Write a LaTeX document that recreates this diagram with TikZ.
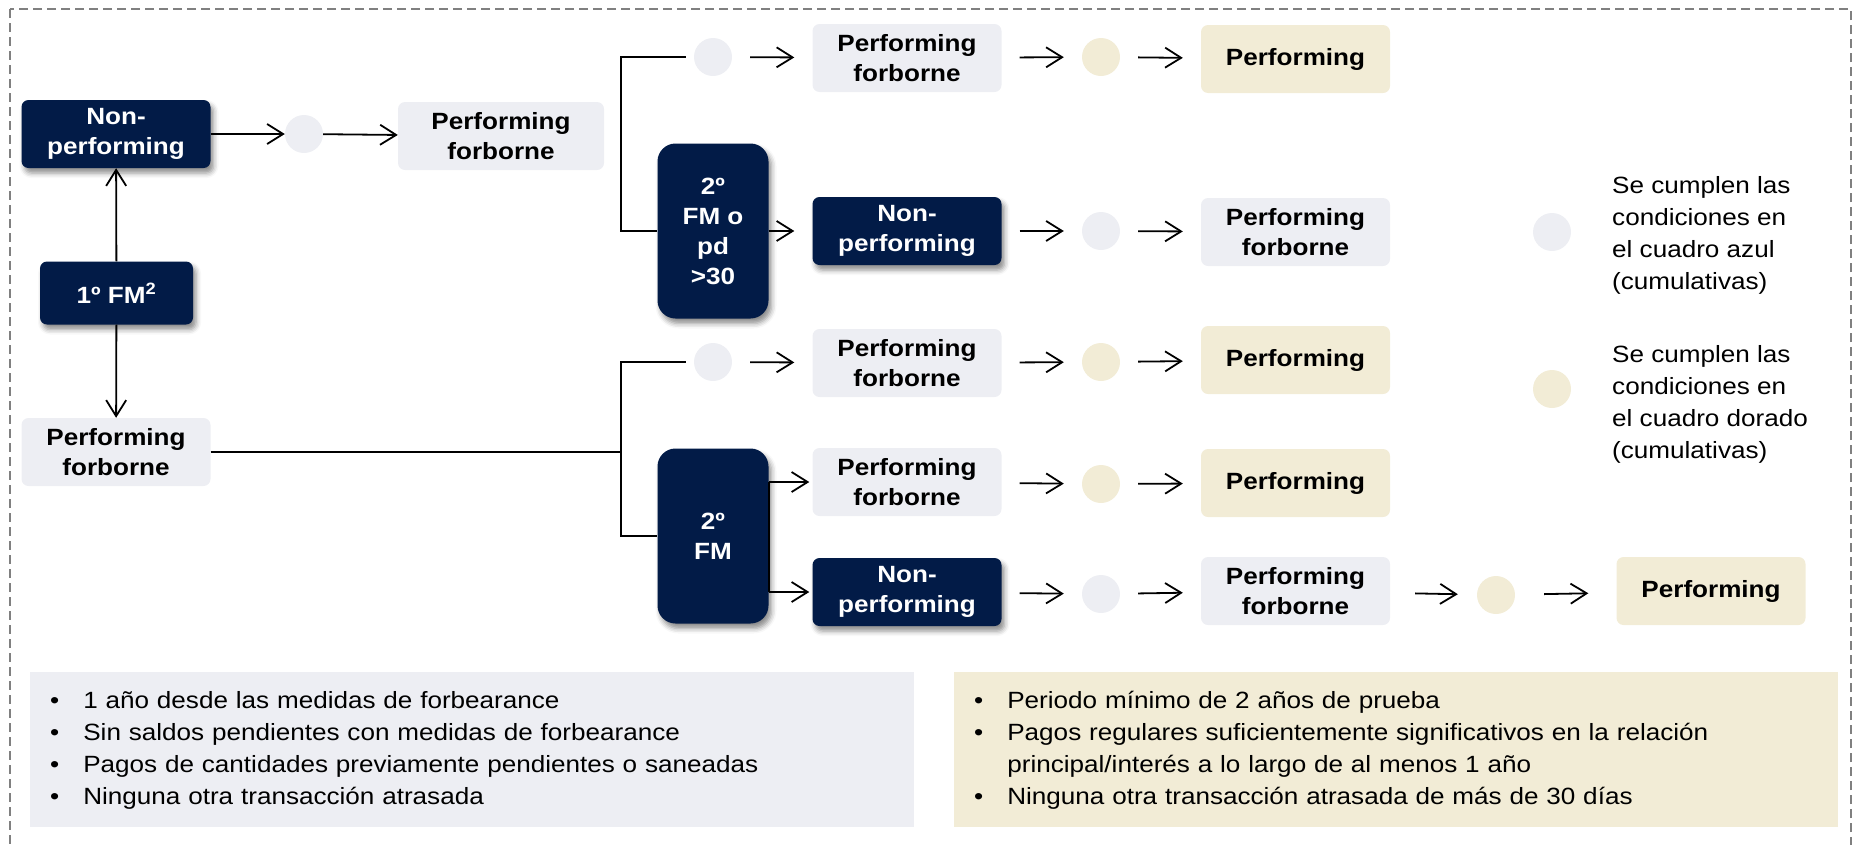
\documentclass[tikz,border=0pt]{standalone}
\usepackage{fontspec}
\setmainfont{Liberation Sans}[FakeStretch=1.11]
\usetikzlibrary{arrows.meta,shadows.blur}

\definecolor{navy}{RGB}{2,27,71}
\definecolor{paleblue}{RGB}{237,238,243}
\definecolor{palegold}{RGB}{242,236,214}

\newcommand\boxfont{\fontsize{23.5}{30}\selectfont\bfseries}
\newcommand\keyfont{\fontsize{23.5}{32}\selectfont}
\newcommand\listfont{\fontsize{23.5}{32}\selectfont}

\tikzset{
	box/.style={rounded corners=7pt, minimum width=189pt, minimum height=68pt,
		align=center, inner sep=2pt, font=\boxfont},
	darkbox/.style={box, fill=navy, text=white,
		blur shadow={shadow xshift=3pt, shadow yshift=-5pt, shadow blur radius=5pt, shadow opacity=45}},
	greybox/.style={box, fill=paleblue},
	goldbox/.style={box, fill=palegold},
	dot/.style={circle, minimum size=38pt, inner sep=0pt},
	greydot/.style={dot, fill=paleblue},
	golddot/.style={dot, fill=palegold},
	link/.style={line width=1.8pt},
	arr/.style={link, -{Straight Barb[length=16pt, width=20pt]}},
	spaced/.style={arr, shorten <=18pt, shorten >=18pt},
	panel/.style={anchor=north west, minimum width=884pt, minimum height=155pt,
		text width=844pt, inner xsep=20pt, align=left, font=\listfont},
}

\begin{document}
\begin{tikzpicture}[x=1pt, y=-1pt]
	\useasboundingbox (0,0) rectangle (1854,844);
	\draw[gray, line width=1.5pt, dash pattern=on 9pt off 5pt] (10,9) rectangle (1851,900);

	% left column
	\node[darkbox] (np0) at (116,134) {Non-\\performing};
	\node[greydot] (d0) at (304,134) {};
	\node[greybox, minimum width=206pt] (pf0) at (501,136) {Performing\\forborne};
	\node[darkbox, minimum width=153pt, minimum height=63pt] (fm1) at (116.5,293) {1º FM\textsuperscript{2}};
	\node[greybox] (pf00) at (116,452) {Performing\\forborne};
	\draw[arr] (fm1) -- (np0);
	\draw[arr] (fm1) -- (pf00);
	\draw[arr] (np0) -- (d0);
	\draw[arr] (d0) -- (pf0);

	% upper branch: 2o FM o pd >30
	\node[darkbox, minimum width=111pt, minimum height=175pt, rounded corners=18pt] (fm2a) at (713,231) {2º\\FM o\\pd\\>30};
	\node[greydot] (a1) at (713,57) {};
	\node[greybox] (a2) at (907,58) {Performing\\forborne};
	\node[golddot] (a3) at (1101,57) {};
	\node[goldbox] (a4) at (1295.5,59) {Performing};
	\node[darkbox] (b2) at (907,231) {Non-\\performing};
	\node[greydot] (b3) at (1101,231) {};
	\node[greybox] (b4) at (1295.5,232) {Performing\\forborne};
	\coordinate (ka) at (621,57);
	\draw[link] ([xshift=-8pt]a1.west) -- (ka) |- (fm2a.west);
	\draw[spaced] (a1) -- (a2);
	\draw[spaced] (a2) -- (a3);
	\draw[spaced] (a3) -- (a4);
	\draw[arr, shorten >=18pt] (fm2a.east |- b2) -- (b2);
	\draw[spaced] (b2) -- (b3);
	\draw[spaced] (b3) -- (b4);

	% lower branch: 2o FM
	\node[darkbox, minimum width=111pt, minimum height=175pt, rounded corners=18pt] (fm2b) at (713,536) {2º\\FM};
	\node[greydot] (c1) at (713,362) {};
	\node[greybox] (c2) at (907,363) {Performing\\forborne};
	\node[golddot] (c3) at (1101,362) {};
	\node[goldbox] (c4) at (1295.5,360) {Performing};
	\node[greybox] (e2) at (907,482) {Performing\\forborne};
	\node[golddot] (e3) at (1101,484) {};
	\node[goldbox] (e4) at (1295.5,483) {Performing};
	\node[darkbox] (f2) at (907,592) {Non-\\performing};
	\node[greydot] (f3) at (1101,594) {};
	\node[greybox] (f4) at (1295.5,591) {Performing\\forborne};
	\node[golddot] (f5) at (1496,595) {};
	\node[goldbox] (f6) at (1711,591) {Performing};
	\coordinate (kb) at (621,362);
	\draw[link] ([xshift=-8pt]c1.west) -- (kb) |- (fm2b.west);
	\draw[link] (pf00.east) -- (pf00.east -| kb);
	\draw[spaced] (c1) -- (c2);
	\draw[spaced] (c2) -- (c3);
	\draw[spaced] (c3) -- (c4);
	\draw[link] (fm2b.east |- e2) -- (fm2b.east |- f2);
	\draw[arr, shorten >=3pt] (fm2b.east |- e2) -- (e2);
	\draw[arr, shorten >=3pt] (fm2b.east |- f2) -- (f2);
	\draw[spaced] (e2) -- (e3);
	\draw[spaced] (e3) -- (e4);
	\draw[spaced] (f2) -- (f3);
	\draw[spaced] (f3) -- (f4);
	\draw[arr, shorten <=25pt, shorten >=19pt] (f4) -- (f5);
	\draw[arr, shorten <=29pt, shorten >=28pt] (f5) -- (f6);

	% key
	\node[greydot] (key1) at (1552,232) {};
	\node[anchor=west, align=left, inner sep=0pt, font=\keyfont] (key1t) at (1612,235)
		{Se cumplen las\\condiciones en\\el cuadro azul\\(cumulativas)};
	\node[golddot] (key2) at (1552,389) {};
	\node[anchor=west, align=left, inner sep=0pt, font=\keyfont] (key2t) at (1612,404)
		{Se cumplen las\\condiciones en\\el cuadro dorado\\(cumulativas)};

	% conditions
	\node[panel, fill=paleblue] (blue) at (30,672) {%
		\begin{tabular}{@{}l@{\hspace{24pt}}l@{}}
		\textbullet & 1 año desde las medidas de forbearance\\
		\textbullet & Sin saldos pendientes con medidas de forbearance\\
		\textbullet & Pagos de cantidades previamente pendientes o saneadas\\
		\textbullet & Ninguna otra transacción atrasada
		\end{tabular}};
	\node[panel, fill=palegold] (gold) at (954,672) {%
		\begin{tabular}{@{}l@{\hspace{24pt}}l@{}}
		\textbullet & Periodo mínimo de 2 años de prueba\\
		\textbullet & Pagos regulares suficientemente significativos en la relación\\
		 & principal/interés a lo largo de al menos 1 año\\
		\textbullet & Ninguna otra transacción atrasada de más de 30 días
		\end{tabular}};
\end{tikzpicture}
\end{document}
